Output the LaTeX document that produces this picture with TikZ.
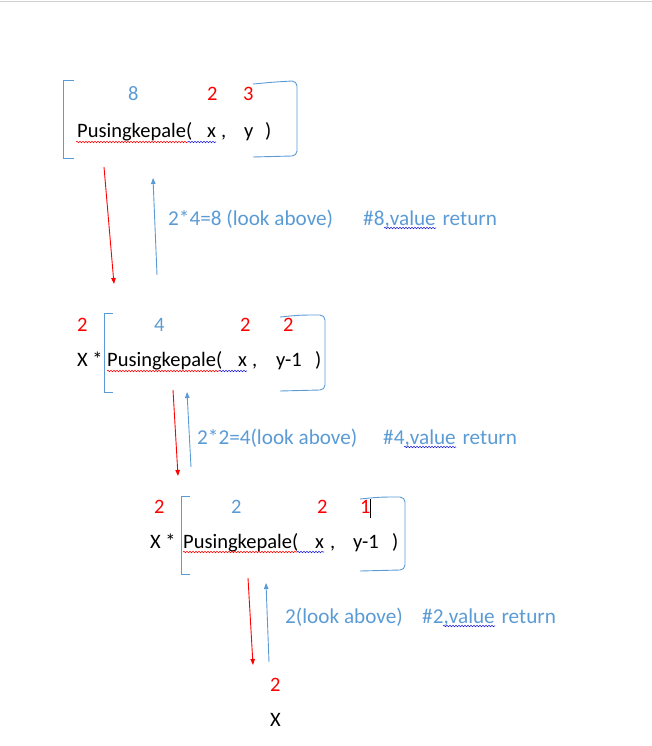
\documentclass[tikz,border=0pt]{standalone}
\usepackage{fontspec}
\setmainfont{Carlito}
\usetikzlibrary{arrows.meta,decorations.pathmorphing}
\definecolor{wordblue}{RGB}{91,155,213}
\definecolor{squigblue}{RGB}{30,30,220}
\begin{document}
\begin{tikzpicture}[x=1pt,y=-1pt,
    txt/.style={anchor=base west,inner sep=0pt,font=\fontsize{20.5}{24}\selectfont},
    num/.style={txt,red},
    val/.style={txt,wordblue},
    lbl/.style={val,font=\fontsize{21.2}{25}\selectfont},
    brak/.style={wordblue,line width=0.9pt},
    spell/.style={decorate,decoration={snake,amplitude=0.7pt,segment length=3pt},line width=0.6pt},
    down/.style={-{Triangle[length=6pt,width=4.5pt]},red,line width=0.9pt},
    up/.style={-{Triangle[length=6pt,width=4.5pt]},wordblue,line width=0.9pt}]
  \useasboundingbox (0,0) rectangle (652,746);
  \draw[black!18] (0,1.5) -- (652,1.5);

  % first call
  \draw[brak] (74,80) -- (63,80) -- (63,158) -- (74,158);
  \draw[brak] (253,84) .. controls (275,82) .. (292,81) to[out=0,in=90] (297,86) -- (297,151) to[out=-90,in=0] (292,156) -- (253,157);
  \node[val] (v1) at (128,101) {8};
  \node[num] (a1) at (207,101) {2};
  \node[num] (b1) at (243,101) {3};
  \node[txt] (f1) at (77,137.5) {Pusingkepale(};
  \node[txt] (x1) at (207,137.5) {x};
  \node[txt] (c1) at (221,137.5) {,};
  \node[txt] (y1) at (244,137.5) {y};
  \node[txt] (p1) at (265,137.5) {)};
  \draw[spell,red] (76,142) -- (188,142);
  \draw[spell,squigblue] (188,142) -- (216,142);

  \coordinate (d1s) at (104,167);
  \coordinate (d1e) at (114,284);
  \coordinate (u1s) at (157,275);
  \coordinate (u1e) at (153,178);
  \draw[down] (d1s) -- (d1e);
  \draw[up] (u1s) -- (u1e);
  \node[lbl] (l1) at (168,225) {2*4=8 (look above)};
  \node[lbl] (r1) at (363,225) {\#8,value\hspace{2pt} return};
  \draw[spell,squigblue] (384,228) -- (436,228);

  % second call
  \draw[brak] (113,313) -- (104,313) -- (104,392) -- (113,392);
  \draw[brak] (280,317) .. controls (300,315) .. (320,315) to[out=0,in=90] (325,320) -- (325,385) to[out=-90,in=0] (320,390) -- (280,391);
  \node[num] (m2) at (77,331.5) {2};
  \node[val] (v2) at (154,331.5) {4};
  \node[num] (a2) at (240,331.5) {2};
  \node[num] (b2) at (283,331.5) {2};
  \node[txt] (k2) at (77,366.5) {X *};
  \node[txt] (f2) at (107,366.5) {Pusingkepale(};
  \node[txt] (x2) at (238,366.5) {x};
  \node[txt] (c2) at (252,366.5) {,};
  \node[txt] (y2) at (276,366.5) {y-1};
  \node[txt] (p2) at (315,366.5) {)};
  \draw[spell,red] (107,371) -- (219,371);
  \draw[spell,squigblue] (219,371) -- (247,371);

  \coordinate (d2s) at (173,390);
  \coordinate (d2e) at (178,476);
  \coordinate (u2s) at (191,467);
  \coordinate (u2e) at (187,392);
  \draw[down] (d2s) -- (d2e);
  \draw[up] (u2s) -- (u2e);
  \node[lbl] (l2) at (197,444) {2*2=4(look above)};
  \node[lbl] (r2) at (383,444) {\#4,value\hspace{2pt} return};
  \draw[spell,squigblue] (404,447) -- (456,447);

  % third call
  \draw[brak] (190,496) -- (181,496) -- (181,574) -- (190,574);
  \draw[brak] (360,499) .. controls (380,497) .. (400,497) to[out=0,in=90] (405,502) -- (405,565) to[out=-90,in=0] (400,570) -- (360,571);
  \node[num] (m3) at (154,513) {2};
  \node[val] (v3) at (231,513) {2};
  \node[num] (a3) at (317,513) {2};
  \node[num] (b3) at (360,513) {1};
  \draw[black,line width=0.8pt] (370,499) -- (370,518);
  \node[txt] (k3) at (150,548) {X *};
  \node[txt] (f3) at (183,548) {Pusingkepale(};
  \node[txt] (x3) at (315,548) {x};
  \node[txt] (c3) at (330,548) {,};
  \node[txt] (y3) at (353,548) {y-1};
  \node[txt] (p3) at (392,548) {)};
  \draw[spell,red] (183,552) -- (297,552);
  \draw[spell,squigblue] (297,552) -- (324,552);

  \coordinate (d3s) at (248,578);
  \coordinate (d3e) at (253,665);
  \coordinate (u3s) at (269,662);
  \coordinate (u3e) at (266,583);
  \draw[down] (d3s) -- (d3e);
  \draw[up] (u3s) -- (u3e);
  \node[lbl] (l3) at (285,623) {2(look above)};
  \node[lbl] (r3) at (422,623) {\#2,value\hspace{2pt} return};
  \draw[spell,squigblue] (443,626) -- (495,626);

  % base case
  \node[num] (m4) at (270,691) {2};
  \node[txt] (k4) at (270,726) {X};
\end{tikzpicture}
\end{document}
